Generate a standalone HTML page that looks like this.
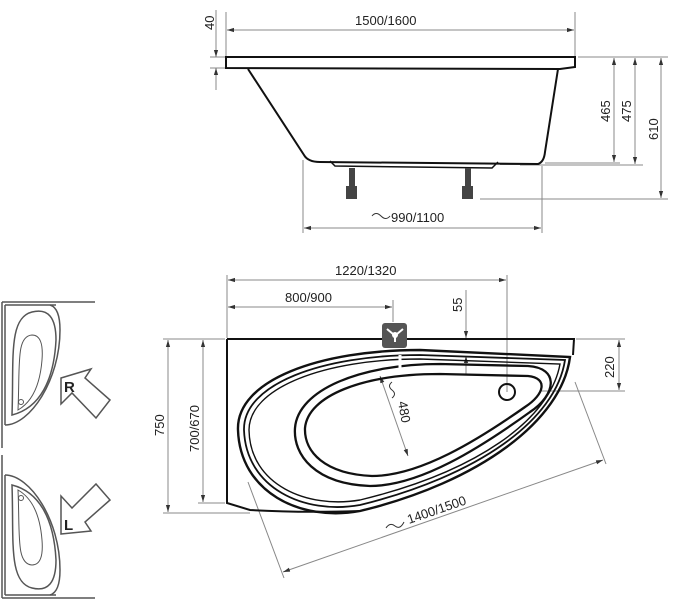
<!DOCTYPE html>
<html><head><meta charset="utf-8"><style>
html,body{margin:0;padding:0;background:#fff;}
svg{display:block;}
text{font-family:"Liberation Sans",Arial,sans-serif;font-size:13px;fill:#222;}
</style></head><body>
<svg width="694" height="600" viewBox="0 0 694 600" xmlns="http://www.w3.org/2000/svg">
<defs>
<marker id="a" viewBox="0 0 10 10" refX="10" refY="5" markerWidth="7" markerHeight="7" orient="auto-start-reverse"><path d="M0,2 L10,5 L0,8 z" fill="#333"/></marker>
</defs>
<g stroke="#888" stroke-width="1" fill="none">
<line x1="226" y1="12" x2="226" y2="56"/><line x1="575" y1="12" x2="575" y2="56"/>
<line x1="227" y1="30" x2="574" y2="30" marker-start="url(#a)" marker-end="url(#a)"/>
<line x1="210" y1="57" x2="225" y2="57"/><line x1="210" y1="68" x2="225" y2="68"/>
<line x1="216" y1="10" x2="216" y2="57" marker-end="url(#a)"/><line x1="216" y1="90" x2="216" y2="68" marker-end="url(#a)"/>
<line x1="578" y1="57" x2="668" y2="57"/>
<line x1="545" y1="163" x2="620" y2="163"/><line x1="520" y1="165" x2="643" y2="165"/><line x1="480" y1="199" x2="668" y2="199"/>
<line x1="614" y1="58" x2="614" y2="162" marker-start="url(#a)" marker-end="url(#a)"/>
<line x1="635" y1="58" x2="635" y2="164" marker-start="url(#a)" marker-end="url(#a)"/>
<line x1="661" y1="58" x2="661" y2="198" marker-start="url(#a)" marker-end="url(#a)"/>
<line x1="303" y1="160" x2="303" y2="233"/><line x1="542" y1="166" x2="542" y2="233"/>
<line x1="304" y1="228" x2="541" y2="228" marker-start="url(#a)" marker-end="url(#a)"/>
<line x1="227" y1="275" x2="227" y2="338"/><line x1="507" y1="275" x2="507" y2="392"/>
<line x1="228" y1="280" x2="506" y2="280" marker-start="url(#a)" marker-end="url(#a)"/>
<line x1="393" y1="300" x2="393" y2="322"/>
<line x1="228" y1="307" x2="392" y2="307" marker-start="url(#a)" marker-end="url(#a)"/>
<line x1="466" y1="290" x2="466" y2="338" marker-end="url(#a)"/><line x1="466" y1="375" x2="466" y2="356" marker-end="url(#a)"/>
<line x1="576" y1="339" x2="625" y2="339"/><line x1="540" y1="391" x2="625" y2="391"/>
<line x1="619" y1="340" x2="619" y2="390" marker-start="url(#a)" marker-end="url(#a)"/>
<line x1="163" y1="339" x2="225" y2="339"/><line x1="163" y1="513" x2="250" y2="513"/><line x1="198" y1="503" x2="225" y2="503"/>
<line x1="168" y1="340" x2="168" y2="512" marker-start="url(#a)" marker-end="url(#a)"/>
<line x1="203" y1="340" x2="203" y2="502" marker-start="url(#a)" marker-end="url(#a)"/>
<line x1="380" y1="376" x2="408" y2="456" marker-start="url(#a)" marker-end="url(#a)"/>
<line x1="248" y1="482" x2="284" y2="578"/><line x1="575" y1="382" x2="606" y2="464"/>
<line x1="283" y1="572" x2="603" y2="460" marker-start="url(#a)" marker-end="url(#a)"/>
</g>
<g>
<text x="355" y="25">1500/1600</text>
<text transform="translate(214,30) rotate(-90)">40</text>
<text transform="translate(610,122) rotate(-90)">465</text>
<text transform="translate(631,122) rotate(-90)">475</text>
<text transform="translate(658,140) rotate(-90)">610</text>
<text x="391" y="222">990/1100</text>
<path d="M372,216 q4,-5 9,0 t9,0" stroke="#333" fill="none"/>
<text x="335" y="275">1220/1320</text>
<text x="285" y="302">800/900</text>
<text transform="translate(462,312) rotate(-90)">55</text>
<text transform="translate(614,378) rotate(-90)">220</text>
<text transform="translate(164,436) rotate(-90)">750</text>
<text transform="translate(199,452) rotate(-90)">700/670</text>
<text transform="translate(398,402) rotate(80)">480</text>
<path d="M392,382 q-5,4 0,8 t0,8" stroke="#333" fill="none"/>
<text transform="translate(409,524) rotate(-19)">1400/1500</text>
<path d="M386,528 q4,-6 9,-2 t9,-4" stroke="#333" fill="none"/>
</g>
<g stroke="#111" stroke-width="2" fill="none">
<path d="M226,57 L575,57 L575,67 L560,69 L226,68 Z" fill="#fff"/>
<path d="M248,69 L304,155 Q308,162 320,162 L538,164 Q544,162 545,152 L558,69"/>
<path d="M330,161 L335,166 L492,168 L498,162" stroke-width="1.5"/>
<path d="M500,164 L520,164" stroke-width="1.5"/>
</g>
<g fill="#444">
<rect x="349" y="168" width="6" height="20"/><rect x="346" y="186" width="11" height="13"/>
<rect x="465" y="168" width="6" height="20"/><rect x="462" y="186" width="11" height="13"/>
</g>
<g stroke="#111" stroke-width="2" fill="none">
<path d="M227,339 L574,339 L573,355 M227,339 L227,503 L250,510 Q300,513 360,511"/>
<path d="M420,350 L570,357 C562,420 480,482 360,511 C300,522 240,492 238,430 C236,380 320,350 420,350 Z" stroke-width="2.4"/>
<path d="M420,355 L565,360 C556,420 478,476 360,505 C304,515 246,488 244,430 C243,384 322,355 420,355 Z" stroke-width="1.8"/>
<path d="M420,359 L560,364 C550,420 476,472 360,500 C307,509 250,485 249,430 C249,388 324,359 420,359 Z" stroke-width="1.4"/>
<path d="M440,364 L528,366 C560,368 556,395 530,412 C480,448 420,486 370,486 C315,484 293,455 295,428 C298,390 360,364 440,364 Z" stroke-width="2.3"/>
<path d="M440,374 L528,376 C548,378 545,394 525,407 C478,440 420,476 372,476 C325,474 304,452 305,428 C308,396 362,374 440,374 Z" stroke-width="2.3"/>
<circle cx="507" cy="392" r="8"/>
</g>
<line x1="400" y1="355" x2="400" y2="369" stroke="#fff" stroke-width="3"/>
<rect x="382" y="323" width="25" height="25" rx="3" fill="#555"/>
<path d="M387,329 l6,5 h4 l6,-5 M395,334 v8" stroke="#fff" stroke-width="2" fill="none"/>
<circle cx="395" cy="335" r="3" fill="#fff"/>
<g stroke="#555" stroke-width="1.5" fill="none">
<line x1="2" y1="302" x2="2" y2="448"/><line x1="2" y1="302" x2="95" y2="302"/>
<line x1="5" y1="305" x2="5" y2="425"/><line x1="5" y1="305" x2="56" y2="305"/>
<path d="M5,425 C30,425 60,380 60,330 Q60,308 50,305"/>
<path d="M12,415 C14,360 8,318 32,312 Q56,306 56,340 C54,380 40,408 12,415 Z"/>
<path d="M18,410 C20,365 16,336 32,335 Q44,335 42,360 C40,385 32,402 18,410 Z" stroke-width="1"/>
<circle cx="21" cy="402" r="2.5" stroke-width="1"/>
<path d="M61,378 L91,369 L85,378 L110,400 L96,418 L72,393 L61,404 Z" fill="#fff"/>
<line x1="2" y1="455" x2="2" y2="598"/><line x1="2" y1="598" x2="95" y2="598"/>
<line x1="5" y1="475" x2="5" y2="595"/><line x1="5" y1="595" x2="56" y2="595"/>
<path d="M5,475 C30,475 60,520 60,570 Q60,592 50,595"/>
<path d="M12,485 C14,540 8,582 32,588 Q56,594 56,560 C54,520 40,492 12,485 Z"/>
<path d="M18,490 C20,535 16,564 32,565 Q44,565 42,540 C40,515 32,498 18,490 Z" stroke-width="1"/>
<circle cx="21" cy="498" r="2.5" stroke-width="1"/>
<path d="M61,534 L91,531 L85,522 L110,500 L96,484 L72,508 L61,496 Z" fill="#fff"/>
</g>
<text x="64" y="392" style="font-size:15px;font-weight:bold">R</text>
<text x="64" y="530" style="font-size:15px;font-weight:bold">L</text>
</svg>
</body></html>
